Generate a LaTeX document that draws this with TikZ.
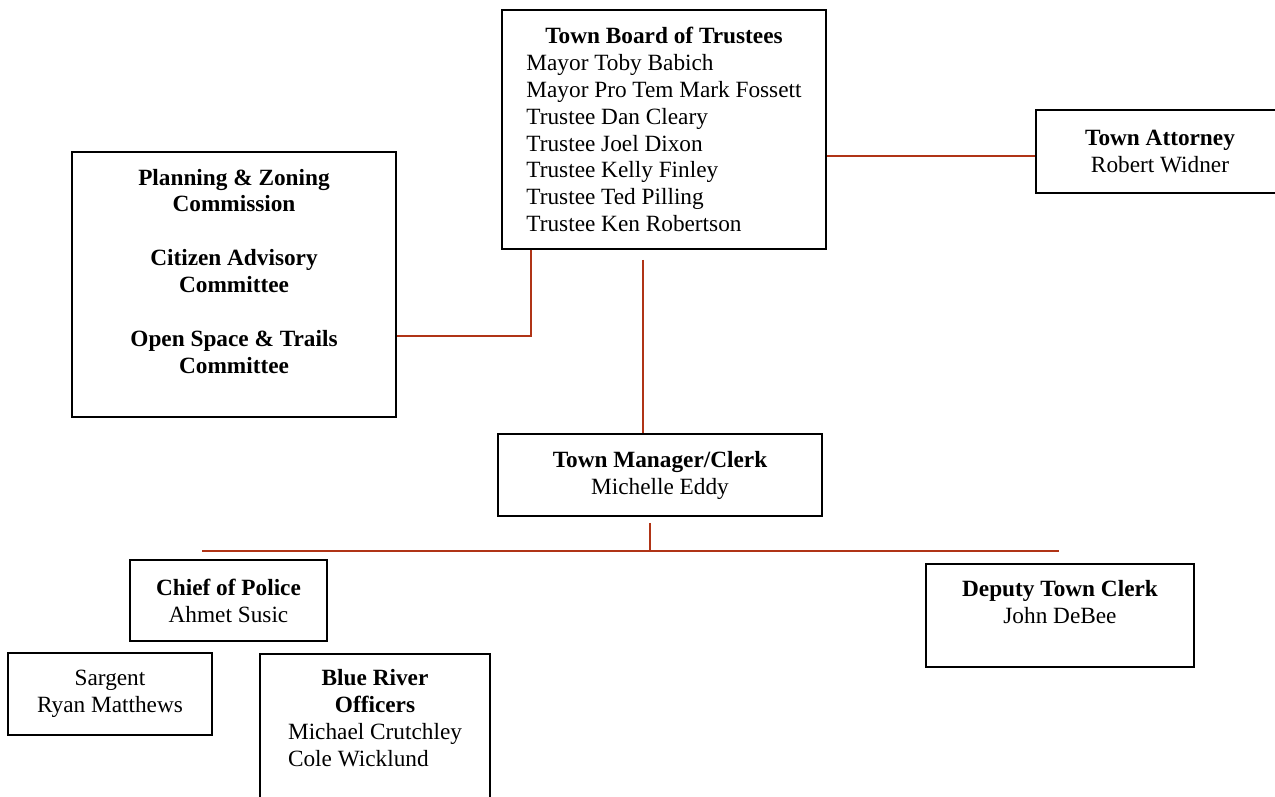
\documentclass[tikz,border=0pt]{standalone}
\usepackage{fontspec}
\setmainfont{Liberation Serif}
\definecolor{rust}{RGB}{176,52,22}
\newcommand{\orgfont}{\fontsize{13.25}{15.3}\selectfont}
\newcommand{\lft}[1]{\rlap{#1}\hphantom{Mayor Pro Tem Mark Fossett}}
\begin{document}
\begin{tikzpicture}[x=0.02cm,y=-0.02cm,
  box/.style={draw, line width=1pt, rectangle, inner sep=2pt, align=center, font=\orgfont},
  link/.style={draw=rust, line width=1.1pt}]
\useasboundingbox (0,0) rectangle (1275,797);

% Board of trustees and attorney
\node[box, minimum width=6.48cm, minimum height=4.78cm] (board) at (664,129.5)
  {\textbf{Town Board of Trustees}\\\lft{Mayor Toby Babich}\\\lft{Mayor Pro Tem Mark Fossett}\\\lft{Trustee Dan Cleary}\\\lft{Trustee Joel Dixon}\\\lft{Trustee Kelly Finley}\\\lft{Trustee Ted Pilling}\\\lft{Trustee Ken Robertson}};
\node[box, minimum width=4.96cm, minimum height=1.66cm] (atty) at (1160,151.5) {\textbf{Town Attorney}\\Robert Widner};

% Commissions and committees
\node[box, minimum width=6.48cm, minimum height=5.3cm] (comm) at (234,284.5)
  {\textbf{Planning \& Zoning}\\\textbf{Commission}\\\mbox{}\\\textbf{Citizen Advisory}\\\textbf{Committee}\\\mbox{}\\\textbf{Open Space \& Trails}\\\textbf{Committee}\\\mbox{}};

% Manager and staff
\node[box, minimum width=6.48cm, minimum height=1.64cm] (mgr) at (660,475) {\textbf{Town Manager/Clerk}\\Michelle Eddy};
\node[box, minimum width=3.94cm, minimum height=1.62cm] (chief) at (228.5,600.5) {\textbf{Chief of Police}\\Ahmet Susic};
\node[box, minimum width=5.36cm, minimum height=2.06cm] (deputy) at (1060,615.5) {\textbf{Deputy Town Clerk}\\John DeBee\\\mbox{}};
\node[box, minimum width=4.08cm, minimum height=1.64cm] (sgt) at (110,694) {Sargent\\Ryan Matthews};
\node[box, minimum width=4.6cm, minimum height=3.1cm] (officers) at (375,731.5)
  {\textbf{Blue River}\\\textbf{Officers}\\Michael Crutchley\\\rlap{Cole Wicklund}\hphantom{Michael Crutchley}\\\mbox{}};

% Connectors
\coordinate (tie) at (531,336);
\coordinate (barL) at (202,551);
\coordinate (barR) at (1059,551);
\draw[link] (board.east |- 0,156) -- (atty.west |- 0,156);
\draw[link] (board.south -| tie) -- (tie) -- (tie -| comm.east);
\draw[link] (board.south -| 643,0) ++(0,10) -- (mgr.north -| 643,0);
\draw[link] (mgr.south -| 650,0) ++(0,6) -- (barL -| 650,0);
\draw[link] (barL) -- (barR);

\end{tikzpicture}
\end{document}
